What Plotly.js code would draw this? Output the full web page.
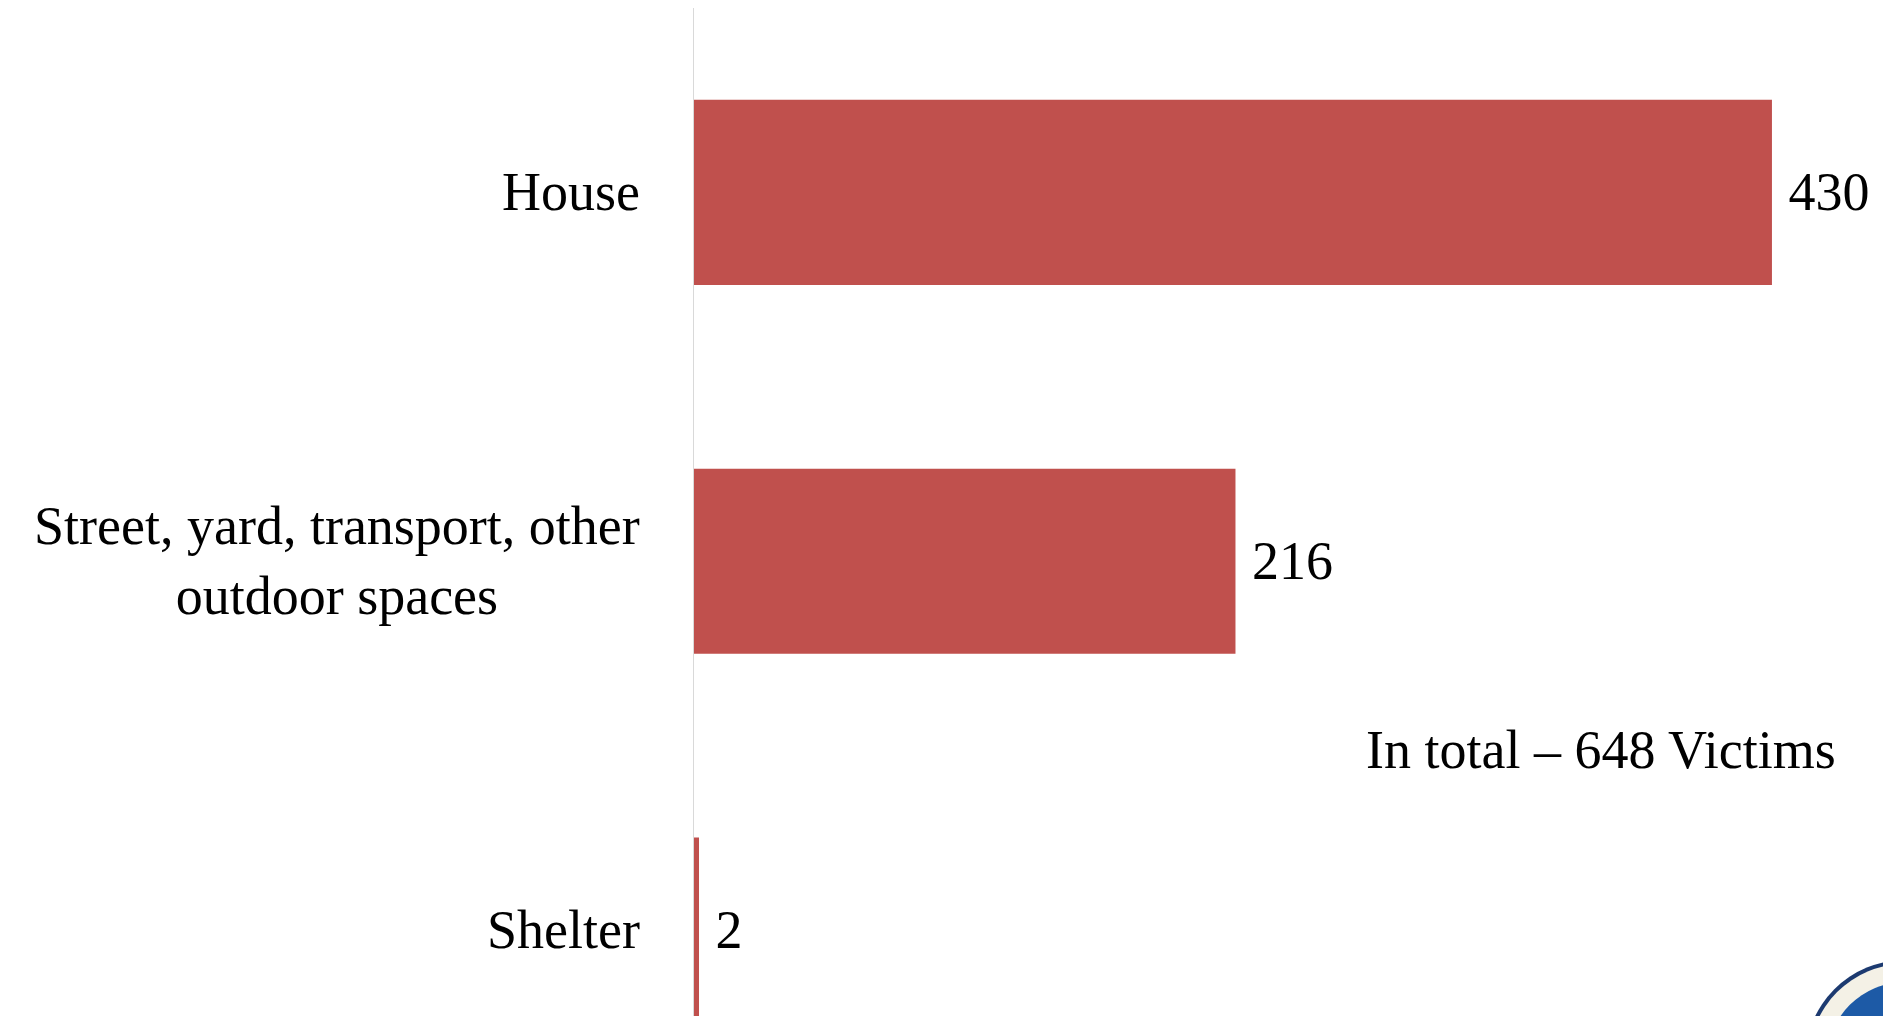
<!DOCTYPE html>
<html>
<head>
<meta charset="utf-8">
<script src="https://cdn.plot.ly/plotly-3.0.1.min.js"></script>
<style>
  html, body { margin: 0; padding: 0; background: #ffffff; }
  #chart { width: 1883px; height: 1016px; }
</style>
</head>
<body>
<div id="chart"></div>
<script>
// Data
const categories = ["House", "Street, yard, transport, other outdoor spaces", "Shelter"];
const categoryLabels = ["House", "Street, yard, transport, other<br>outdoor spaces", "Shelter"];
const victims = [430, 216, 2];
const totalLabel = "In total – 648 Victims";

const FONT = "'Liberation Serif', 'DejaVu Serif', serif";
const BAR_COLOR = "#C0504D";

const trace = {
  type: "bar",
  orientation: "h",
  x: victims,
  y: categories,
  marker: { color: BAR_COLOR, line: { width: 0 } },
  texttemplate: "\u00a0%{x}",
  textposition: "outside",
  constraintext: "none",
  cliponaxis: false,
  textfont: { family: FONT, size: 54, color: "#000000" },
  hoverinfo: "skip"
};

const annotations = categories.map((c, i) => ({
  xref: "paper",
  yref: "y",
  x: 0,
  y: c,
  xanchor: "right",
  yanchor: "middle",
  xshift: -52,
  align: "center",
  showarrow: false,
  text: categoryLabels[i],
  font: { family: FONT, size: 54, color: "#000000" }
}));

annotations.push({
  xref: "paper",
  yref: "paper",
  x: 0.763,
  y: 0.264,
  xanchor: "center",
  yanchor: "middle",
  showarrow: false,
  text: totalLabel,
  font: { family: FONT, size: 54, color: "#000000" }
});

// partial emblem in the bottom-right corner (pixel geometry converted to paper)
const L = 694, W = 1189, T = 8, H = 1008;
const px = v => (v - L) / W;
const py = v => 1 - (v - T) / H;
function circ(cx, cy, r, fill) {
  return {
    type: "circle", xref: "paper", yref: "paper", layer: "above",
    x0: px(cx - r), x1: px(cx + r), y0: py(cy + r), y1: py(cy - r),
    fillcolor: fill, line: { width: 0 }
  };
}
const shapes = [
  circ(1905, 1060, 100, "#1c3a70"),
  circ(1905, 1060, 96, "#f4f1e6"),
  circ(1905, 1060, 78, "#1d5aa6")
];

const layout = {
  width: 1883,
  height: 1016,
  margin: { l: L, r: 0, t: T, b: 0, pad: 0 },
  paper_bgcolor: "#ffffff",
  plot_bgcolor: "#ffffff",
  showlegend: false,
  bargap: 0.498,
  font: { family: FONT, color: "#000000" },
  xaxis: {
    range: [0, 474.3],
    showgrid: false,
    zeroline: false,
    showline: false,
    showticklabels: false,
    ticks: ""
  },
  yaxis: {
    type: "category",
    categoryorder: "array",
    categoryarray: categories,
    range: [2.233, -0.5],
    showgrid: false,
    zeroline: false,
    showline: true,
    linecolor: "#d9d9d9",
    linewidth: 1.5,
    showticklabels: false,
    ticks: ""
  },
  annotations: annotations,
  shapes: shapes
};

Plotly.newPlot("chart", [trace], layout, { displayModeBar: false, staticPlot: true });
</script>
</body>
</html>
